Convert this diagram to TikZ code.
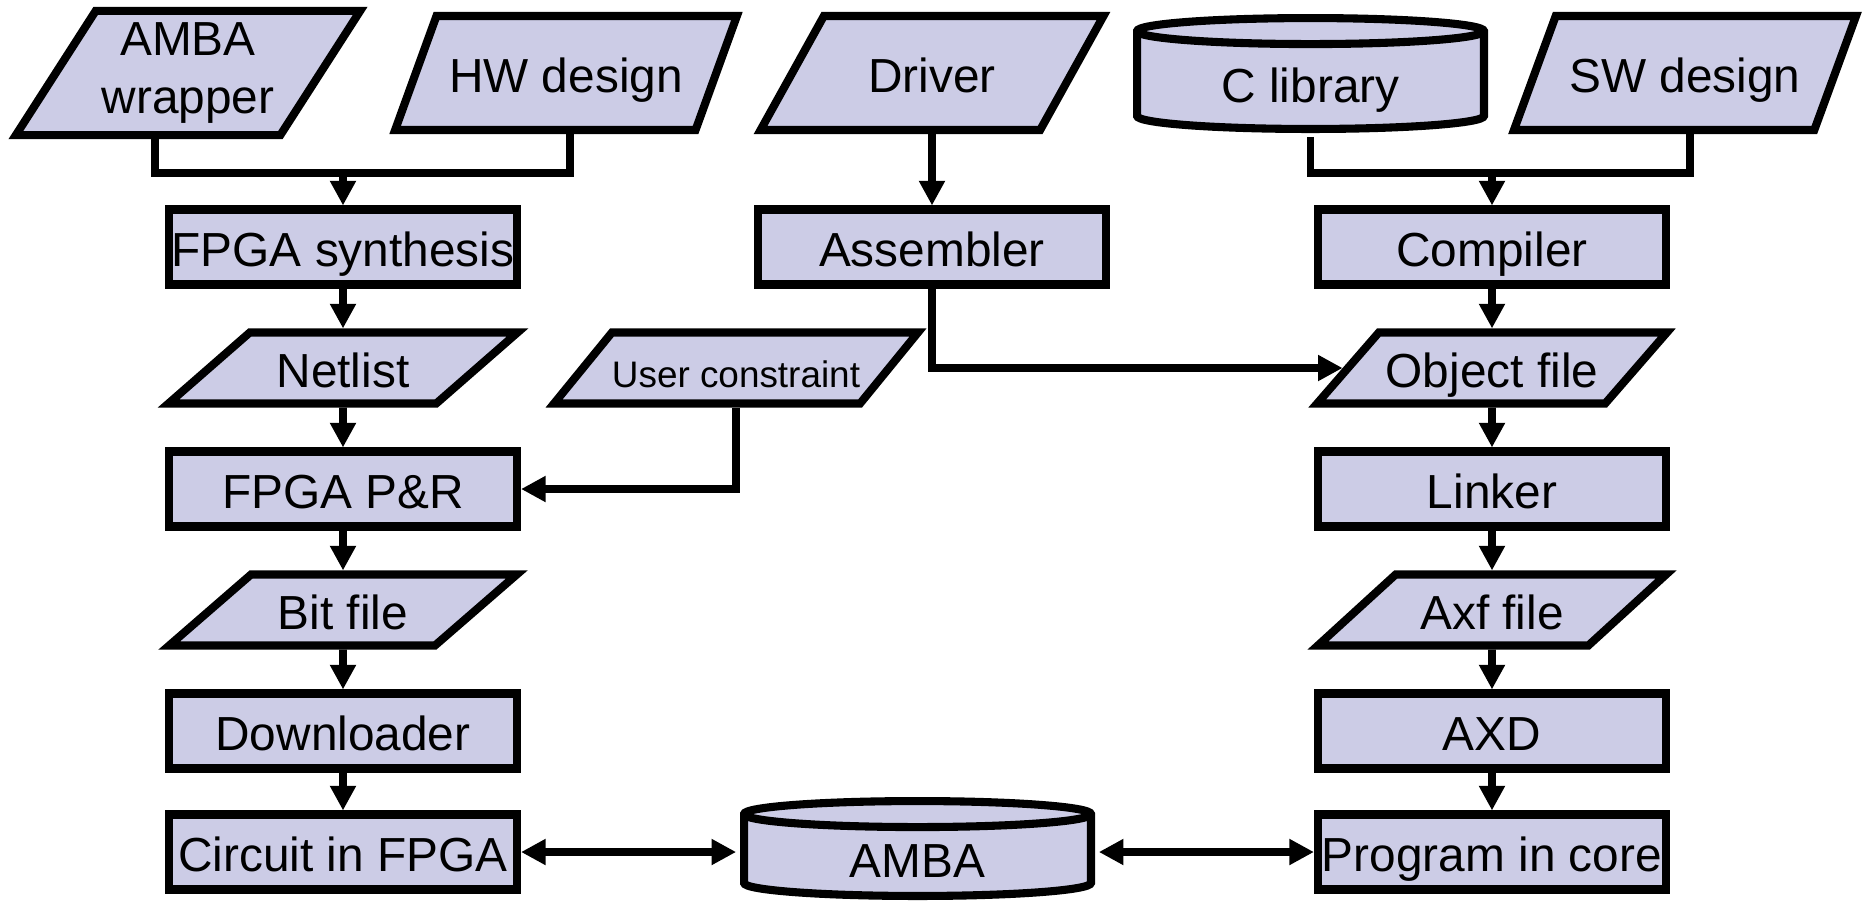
\documentclass[tikz,border=0pt]{standalone}
\usepackage{fontspec}
\setmainfont{Liberation Sans}
\usepackage{tikz}
\usetikzlibrary{shapes.geometric, arrows.meta}
\definecolor{boxfill}{RGB}{204,204,230}
\newcommand{\caprad}{0.13cm}

\begin{document}
\begin{tikzpicture}[>={Triangle[length=7pt,width=7pt]}, line width=2.2pt,
  font=\fontsize{13.6}{16.5}\selectfont,
  proc/.style={rectangle, draw, line width=2.3pt, fill=boxfill, minimum width=3.48cm, minimum height=0.75cm,
    inner xsep=0pt, text height=11pt, text depth=0pt},
  io/.style={trapezium, trapezium left angle=47, trapezium right angle=133, trapezium stretches=true, draw,
    line width=2.3pt, fill=boxfill, minimum width=3.5cm, minimum height=0.71cm, inner xsep=0pt,
    text height=11pt, text depth=0pt},
  bigio/.style={io, trapezium left angle=59, trapezium right angle=121, minimum width=3.45cm, minimum height=1.14cm},
  store/.style n args={2}{rectangle, minimum width=#1, minimum height=#2, inner sep=0pt,
    text height=16.5pt, text depth=0pt,
    path picture={
      \draw[line width=2.3pt, fill=boxfill]
        ([shift={(1.15pt,-1.15pt-\caprad)}]path picture bounding box.north west)
        -- ([shift={(1.15pt,1.15pt+\caprad)}]path picture bounding box.south west)
        arc[start angle=180, end angle=360, x radius={#1/2-1.15pt}, y radius=\caprad]
        -- ([shift={(-1.15pt,-1.15pt-\caprad)}]path picture bounding box.north east)
        arc[start angle=0, end angle=180, x radius={#1/2-1.15pt}, y radius=\caprad] -- cycle;
      \draw[line width=2.3pt]
        ([shift={(1.15pt,-1.15pt-\caprad)}]path picture bounding box.north west)
        arc[start angle=180, end angle=360, x radius={#1/2-1.15pt}, y radius=\caprad];
    }}]
  \useasboundingbox (0,0) rectangle (18.69,-9.02);
  % inputs
  \node[bigio, align=center, text height={}, text depth={}] (wrap) at (1.88, -0.73) {AMBA\\wrapper};
  \node[bigio] (hw)   at (5.66, -0.73) {HW design};
  \node[bigio] (drv)  at (9.32, -0.73) {Driver};
  \node[store={3.55cm}{1.19cm}] (clib) at (13.105, -0.735) {C library};
  \node[bigio] (sw)   at (16.85, -0.73) {SW design};
  % hardware flow
  \node[proc] (syn)  at (3.43, -2.47) {FPGA synthesis};
  \node[io]   (net)  at (3.43, -3.68) {Netlist};
  \node[proc] (par)  at (3.43, -4.89) {FPGA P\&R};
  \node[io]   (bit)  at (3.43, -6.10) {Bit file};
  \node[proc] (dl)   at (3.43, -7.31) {Downloader};
  \node[proc] (circ) at (3.43, -8.52) {Circuit in FPGA};
  \node[io, font=\fontsize{10.5}{12}\selectfont] (ucf) at (7.36, -3.68) {User constraint};
  % software flow
  \node[proc] (asm)  at (9.32, -2.47) {Assembler};
  \node[proc] (comp) at (14.92, -2.47) {Compiler};
  \node[io]   (obj)  at (14.92, -3.68) {Object file};
  \node[proc] (lnk)  at (14.92, -4.89) {Linker};
  \node[io]   (axf)  at (14.92, -6.10) {Axf file};
  \node[proc] (axd)  at (14.92, -7.31) {AXD};
  \node[proc] (prog) at (14.92, -8.52) {Program in core};
  \node[store={3.55cm}{1.03cm}] (amba) at (9.175, -8.485) {AMBA};
  % joins
  \coordinate (hwL) at (1.55, -1.73);
  \coordinate (hwR) at (5.70, -1.73);
  \coordinate (swL) at (13.105, -1.73);
  \coordinate (swR) at (16.90, -1.73);
  \draw (hwL |- wrap.south) -- (hwL) -- (hwR) -- (hwR |- hw.south);
  \draw[->] (hwL -| syn) -- (syn);
  \draw (swL |- clib.south) -- (swL) -- (swR) -- (swR |- sw.south);
  \draw[->] (swL -| comp) -- (comp);
  \draw[->] (drv) -- (asm);
  \draw[->] (asm.south) |- (obj.west);
  \draw[->] (ucf.south) |- (par.east);
  \foreach \a/\b in {syn/net, net/par, par/bit, bit/dl, dl/circ,
                     comp/obj, obj/lnk, lnk/axf, axf/axd, axd/prog}
    \draw[->] (\a) -- (\b);
  \draw[<->] (circ) -- (circ -| amba.west);
  \draw[<->] (prog -| amba.east) -- (prog);
\end{tikzpicture}
\end{document}
